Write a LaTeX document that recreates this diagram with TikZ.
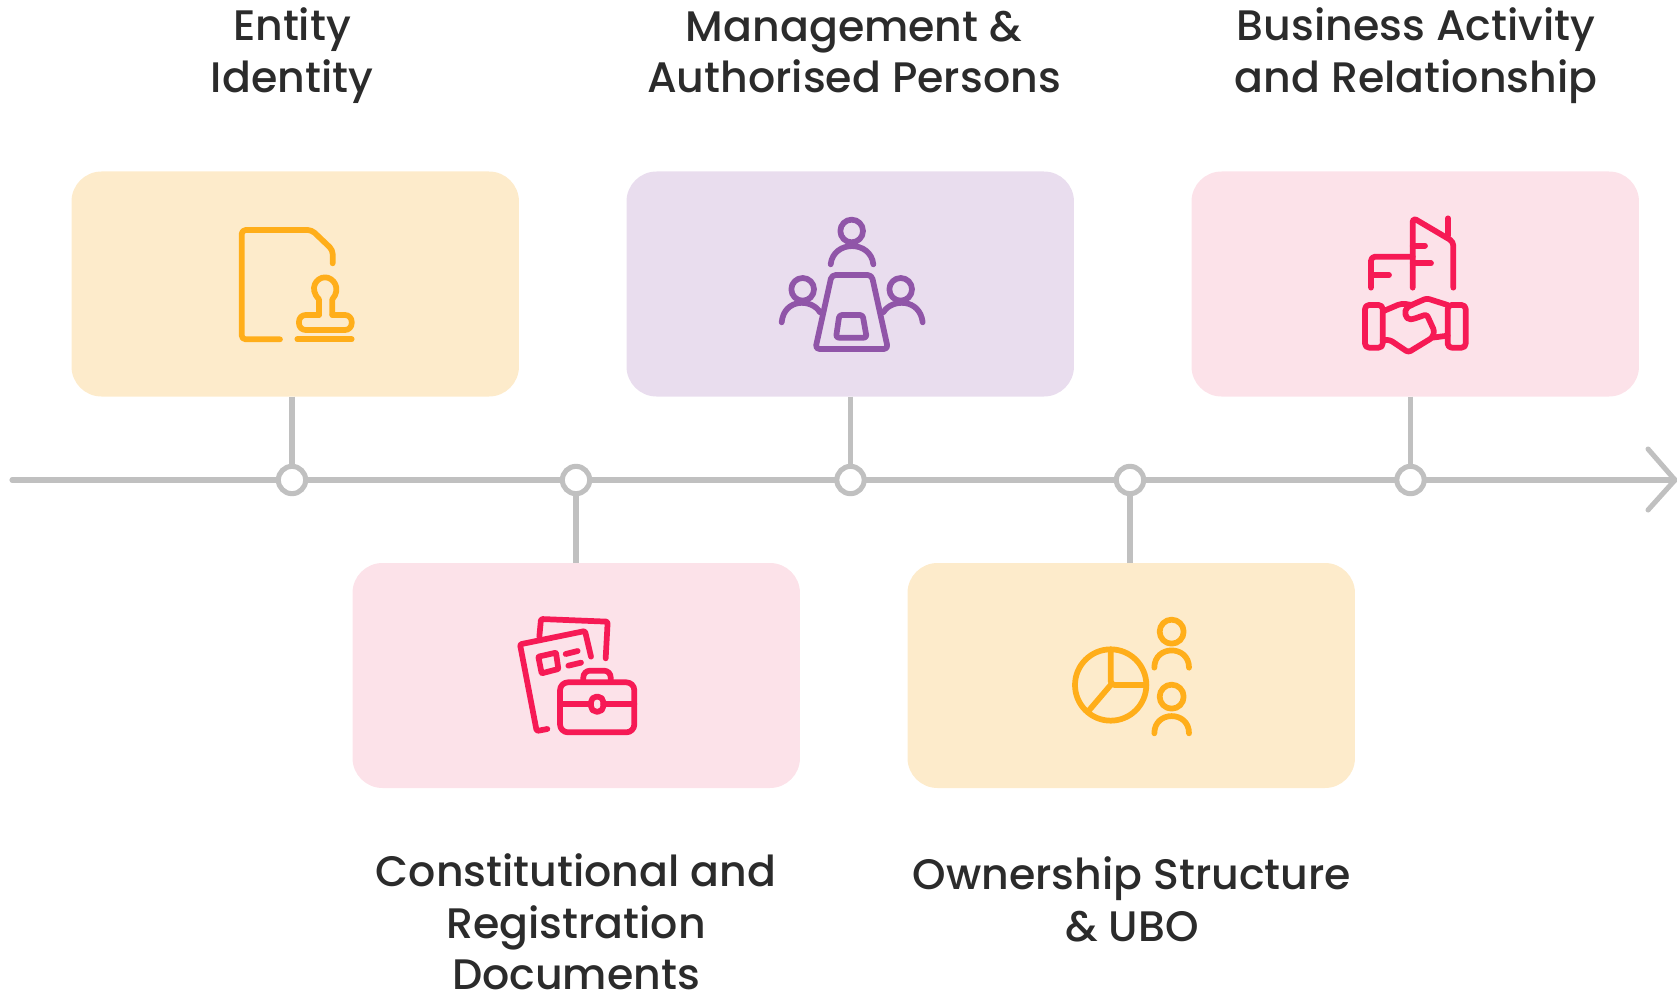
\documentclass[tikz,border=0pt]{standalone}
\usepackage{fontspec}
\setmainfont{Poppins Medium}
\definecolor{boxY}{HTML}{FDEBCB}
\definecolor{boxP}{HTML}{E9DDEE}
\definecolor{boxR}{HTML}{FCE2E9}
\definecolor{icY}{HTML}{FFAE1A}
\definecolor{icP}{HTML}{9055A8}
\definecolor{icR}{HTML}{F61A55}
\definecolor{axisc}{HTML}{C0C0C0}
\definecolor{txt}{HTML}{2B2B2B}
\tikzset{
  card/.style={rounded corners=22.5pt,minimum width=335.6pt,minimum height=168.75pt,inner sep=0,outer sep=0,anchor=north west,draw=none},
  dot/.style={circle,draw=axisc,fill=white,line width=3.8pt,minimum size=20.5pt,inner sep=0,outer sep=0},
  axisline/.style={draw=axisc,line width=3.8pt,line cap=round,line join=round},
  link/.style={draw=axisc,line width=3.8pt},
  icon/.style={line width=4.3pt,line cap=round,line join=round,rounded corners=3pt},
  lab/.style={text=txt,font=\fontsize{32}{38.6}\selectfont,align=center,inner sep=0},
}
\begin{document}
\begin{tikzpicture}[x=0.75pt,y=-0.75pt]
\useasboundingbox (0,0) rectangle (1677,995);
% axis
\coordinate (axs) at (12,480);
\coordinate (axt) at (1675,480);
\coordinate (ahu) at (1648,449);
\coordinate (ahd) at (1648,510);
\draw[axisline] (axs) -- (axt);
\draw[axisline] (ahu) -- (axt) -- (ahd);
% cards
\node[card,fill=boxY] (c1) at (71.5,171.5) {};
\node[card,fill=boxR] (c2) at (352.5,563) {};
\node[card,fill=boxP] (c3) at (626.5,171.5) {};
\node[card,fill=boxY] (c4) at (907.5,563) {};
\node[card,fill=boxR] (c5) at (1191.5,171.5) {};
% dots
\node[dot] (d1) at (292,480) {};
\node[dot] (d2) at (576,480) {};
\node[dot] (d3) at (850.5,480) {};
\node[dot] (d4) at (1130,480) {};
\node[dot] (d5) at (1410.5,480) {};
% links
\draw[link] (c1.south -| d1) -- (d1);
\draw[link] (c2.north -| d2) -- (d2);
\draw[link] (c3.south -| d3) -- (d3);
\draw[link] (c4.north -| d4) -- (d4);
\draw[link] (c5.south -| d5) -- (d5);
% labels
\node[lab] (t1) at (292,55.5) {Entity\\Identity};
\node[lab] (t2) at (576,922) {Constitutional and\\Registration\\Documents};
\node[lab] (t3) at (854,52) {Management \&\\Authorised Persons};
\node[lab] (t4) at (1132,899.5) {Ownership Structure\\\& UBO};
\node[lab] (t5) at (1416,55.5) {Business Activity\\and Relationship};
% icon 1
\begin{scope}[shift={(220,200)},scale=1/3,icon,draw=icY]
\draw (338,190) -- (338,150) -- (275,90) -- (65,90) -- (65,418) -- (180,418);
\draw (232,418) -- (395,418);
\draw[rounded corners=0pt] (297,345) -- (297,298) .. controls (265,265) and (290,232) .. (315,232) .. controls (340,232) and (365,265) .. (337,298) -- (337,345);
\draw[rounded corners=5pt] (297,345) -- (237,345) -- (237,390) -- (395,390) -- (395,345) -- (337,345);
\end{scope}
% icon 2
\begin{scope}[shift={(770,205)},scale=1/3,icon,draw=icP]
\draw (245,78) circle (34);
\draw (182,178) .. controls (190,105) and (302,105) .. (310,178);
\draw (98,253) circle (34);
\draw (35,352) .. controls (42,280) and (125,280) .. (150,322);
\draw (392,253) circle (34);
\draw (458,352) .. controls (450,280) and (365,280) .. (340,322);
\draw (185,210) -- (305,210) -- (354,432) -- (136,432) -- cycle;
\draw[rounded corners=2pt] (208,330) -- (278,330) -- (290,398) -- (198,398) -- cycle;
\end{scope}
% icon 3
\begin{scope}[shift={(1345,205)},scale=1/3,icon,draw=icR]
\draw (203,248) -- (203,38) -- (325,110) -- (325,248);
\draw (309,40) -- (309,92);
\draw (203,122) -- (240,122);
\draw (203,175) -- (258,175);
\draw (78,248) -- (78,155) -- (203,155);
\draw (78,210) -- (132,210);
\draw (60,300) rectangle (113,428);
\draw (308,300) rectangle (362,428);
\draw (116,318) -- (170,295) -- (200,300);
\draw[rounded corners=2pt] (308,300) -- (245,280) -- (195,302) .. controls (175,315) and (180,345) .. (205,342) -- (245,328) -- (268,378) -- (262,398) -- (190,442) -- (135,405) -- (113,405);
\draw (262,398) -- (308,392);
\end{scope}
% icon 4
\begin{scope}[shift={(505,605)},scale=1/3,icon,draw=icR]
\draw[rounded corners=1pt] (103,95) -- (108,42) -- (308,50) -- (302,160);
\draw[rounded corners=1pt] (258,155) -- (240,78) -- (45,118) -- (95,378) -- (127,372);
\draw[rounded corners=0.5pt] (100,155) -- (153,143) -- (160,192) -- (110,205) -- cycle;
\draw (182,147) -- (218,138);
\draw (190,182) -- (228,173);
\draw[rounded corners=6pt] (165,232) rectangle (388,382);
\draw[rounded corners=5pt] (235,230) -- (235,197) -- (317,197) -- (317,230);
\draw (165,297) -- (258,297);
\draw (295,297) -- (388,297);
\draw[rounded corners=4pt] (258,275) rectangle (295,320);
\end{scope}
% icon 5
\begin{scope}[shift={(1060,605)},scale=1/3,icon,draw=icY]
\draw (152,240) circle (107);
\draw (152,133) -- (152,240) -- (259,240);
\draw (152,240) -- (88,315);
\draw (335,80) circle (36);
\draw (335,275) circle (36);
\draw (283,188) .. controls (283,119) and (387,119) .. (387,188);
\draw (283,385) .. controls (283,316) and (387,316) .. (387,385);
\end{scope}
\end{tikzpicture}
\end{document}
